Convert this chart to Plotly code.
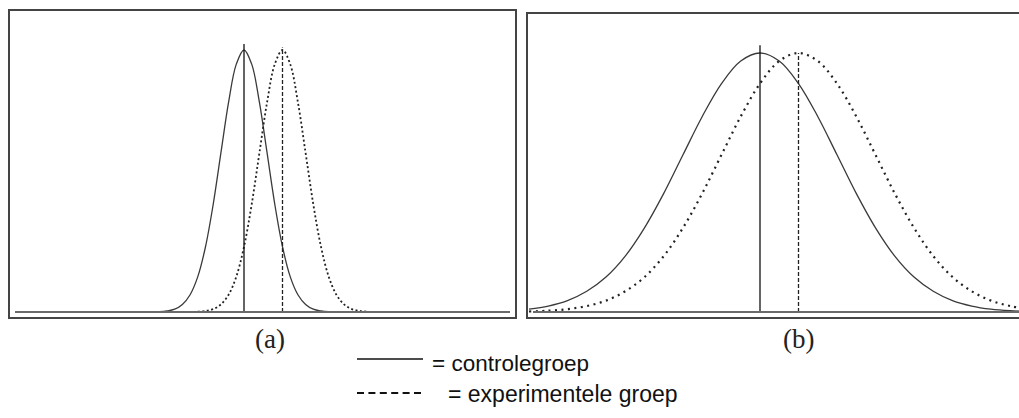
import plotly.graph_objects as go

W, H = 1019, 418

# ---- data (score scale; same mean difference, different spread) ----
means_a = [100, 110]          # controle, experimenteel (panel a)
means_b = [100, 110]          # controle, experimenteel (panel b)
mean_line_top_a = [1.023, 1.01]
mean_line_top_b = [1.03, 1.00]

x_a_ctrl = [78, 80, 82, 84, 86, 88, 90, 92, 94, 96, 98, 100, 102, 104, 106, 108, 110, 112, 114, 116, 118, 120, 122]
y_a_ctrl = [0.001, 0.004, 0.011, 0.029, 0.066, 0.135, 0.249, 0.411, 0.607, 0.801, 0.946, 1.0,
            0.946, 0.801, 0.607, 0.411, 0.249, 0.135, 0.066, 0.029, 0.011, 0.004, 0.001]
x_a_exp = [88, 90, 92, 94, 96, 98, 100, 102, 104, 106, 108, 110, 112, 114, 116, 118, 120, 122, 124, 126, 128, 130, 132]
y_a_exp = [0.001, 0.004, 0.011, 0.029, 0.066, 0.135, 0.249, 0.411, 0.607, 0.801, 0.946, 1.0,
           0.946, 0.801, 0.607, 0.411, 0.249, 0.135, 0.066, 0.029, 0.011, 0.004, 0.001]

x_b = [40, 45, 50, 55, 60, 65, 70, 75, 80, 85, 90, 95, 100, 105, 110, 115, 120, 125, 130,
       135, 140, 145, 150, 155, 160, 165, 170]
y_b_ctrl = [0.011, 0.023, 0.044, 0.080, 0.135, 0.216, 0.325, 0.458, 0.607, 0.755, 0.882, 0.969, 1.0,
            0.969, 0.882, 0.755, 0.607, 0.458, 0.325, 0.216, 0.135, 0.080, 0.044, 0.023, 0.011, 0.005, 0.002]
y_b_exp = [0.002, 0.005, 0.011, 0.023, 0.044, 0.080, 0.135, 0.216, 0.325, 0.458, 0.607, 0.755, 0.882,
           0.969, 1.0, 0.969, 0.882, 0.755, 0.607, 0.458, 0.325, 0.216, 0.135, 0.080, 0.044, 0.023, 0.011]

panel_labels = ["(a)", "(b)"]
legend_labels = ["= controlegroep", "= experimentele groep"]

# ---- layout helpers ----
def px_x(p):
    return p / W

def px_y(p):
    return (H - p) / H

fig = go.Figure()

solid = dict(color="#3a3a3a", width=1.3)
dotted_a = dict(color="#222222", width=1.8, dash="2px,2.5px")
dotted_b = dict(color="#222222", width=2.2, dash="2px,4.5px")
vdash = dict(color="#222222", width=1.3, dash="4px,2px")

# panel a
fig.add_trace(go.Scatter(x=x_a_ctrl, y=y_a_ctrl, mode="lines", line=dict(shape="spline", **solid),
                         xaxis="x", yaxis="y", showlegend=False, hoverinfo="skip"))
fig.add_trace(go.Scatter(x=x_a_exp, y=y_a_exp, mode="lines", line=dict(shape="spline", **dotted_a),
                         xaxis="x", yaxis="y", showlegend=False, hoverinfo="skip"))
fig.add_trace(go.Scatter(x=[means_a[0], means_a[0]], y=[0, mean_line_top_a[0]], mode="lines",
                         line=dict(color="#111111", width=1.3), xaxis="x", yaxis="y", showlegend=False,
                         hoverinfo="skip"))
fig.add_trace(go.Scatter(x=[means_a[1], means_a[1]], y=[0, mean_line_top_a[1]], mode="lines",
                         line=vdash, xaxis="x", yaxis="y", showlegend=False, hoverinfo="skip"))
# panel b
fig.add_trace(go.Scatter(x=x_b, y=y_b_ctrl, mode="lines", line=dict(shape="spline", **solid),
                         xaxis="x2", yaxis="y2", showlegend=False, hoverinfo="skip"))
fig.add_trace(go.Scatter(x=x_b, y=y_b_exp, mode="lines", line=dict(shape="spline", **dotted_b),
                         xaxis="x2", yaxis="y2", showlegend=False, hoverinfo="skip"))
fig.add_trace(go.Scatter(x=[means_b[0], means_b[0]], y=[0, mean_line_top_b[0]], mode="lines",
                         line=dict(color="#111111", width=1.3), xaxis="x2", yaxis="y2", showlegend=False,
                         hoverinfo="skip"))
fig.add_trace(go.Scatter(x=[means_b[1], means_b[1]], y=[0, mean_line_top_b[1]], mode="lines",
                         line=vdash, xaxis="x2", yaxis="y2", showlegend=False, hoverinfo="skip"))

scale = 3.85  # px per score unit
a_left_px, a_right_px, a_top_px, a_bot_px = 10, 515, 11, 317
b_left_px, b_right_px, b_top_px, b_bot_px = 528, 1019, 14, 317
a_center_px, b_center_px = 244, 760
base_px = 312

def xr(left, right, center):
    return [100 - (center - left) / scale, 100 + (right - center) / scale]

def yr(top, bot, peak):
    u = base_px - peak
    return [-(bot - base_px) / u, (base_px - top) / u]

ax_common = dict(showgrid=False, zeroline=False, showticklabels=False, ticks="",
                 showline=True, linecolor="#444444", linewidth=1.6, fixedrange=True)

xa_range = xr(a_left_px, a_right_px, a_center_px)
xb_range = xr(b_left_px, b_right_px, b_center_px)

fig.update_layout(
    width=W, height=H, margin=dict(l=0, r=0, t=0, b=0),
    paper_bgcolor="white", plot_bgcolor="white",
    xaxis=dict(domain=[px_x(a_left_px), px_x(a_right_px)], range=xa_range, mirror=True, **ax_common),
    yaxis=dict(domain=[px_y(a_bot_px), px_y(a_top_px)], range=yr(a_top_px, a_bot_px, 50), mirror=True, **ax_common),
    xaxis2=dict(domain=[px_x(b_left_px), 1.0], range=xb_range, mirror=True, anchor="y2", **ax_common),
    yaxis2=dict(domain=[px_y(b_bot_px), px_y(b_top_px)], range=yr(b_top_px, b_bot_px, 53), mirror=False,
                anchor="x2", **ax_common),
)

# baselines (inset inside each box)
fig.add_shape(type="line", xref="x", yref="y", x0=100 - (244 - 15) / scale, x1=100 + (510 - 244) / scale,
              y0=0, y1=0, line=dict(color="#6a6a6a", width=2))
fig.add_shape(type="line", xref="x2", yref="y2", x0=100 - (760 - 533) / scale, x1=xb_range[1] + 5,
              y0=0, y1=0, line=dict(color="#6a6a6a", width=2))

# panel labels
fig.add_annotation(text=panel_labels[0], x=px_x(270), y=px_y(339), xref="paper", yref="paper",
                   showarrow=False, xanchor="center", yanchor="middle",
                   font=dict(family="Liberation Serif", size=27, color="#222222"))
fig.add_annotation(text=panel_labels[1], x=px_x(798), y=px_y(339), xref="paper", yref="paper",
                   showarrow=False, xanchor="center", yanchor="middle",
                   font=dict(family="Liberation Serif", size=27, color="#222222"))

# legend
fig.add_shape(type="line", xref="paper", yref="paper", x0=px_x(357), x1=px_x(423), y0=px_y(359), y1=px_y(359),
              line=dict(color="#111111", width=1.5))
fig.add_shape(type="line", xref="paper", yref="paper", x0=px_x(357), x1=px_x(422), y0=px_y(393), y1=px_y(393),
              line=dict(color="#111111", width=2, dash="7px,4.4px"))
fig.add_annotation(text=legend_labels[0], x=px_x(430), y=px_y(363), xref="paper", yref="paper",
                   showarrow=False, xanchor="left", yanchor="middle",
                   font=dict(family="Liberation Sans", size=22.5, color="#111111"))
fig.add_annotation(text=legend_labels[1], x=px_x(446), y=px_y(394), xref="paper", yref="paper",
                   showarrow=False, xanchor="left", yanchor="middle",
                   font=dict(family="Liberation Sans", size=23, color="#111111"))

fig.write_html("out.html", config={"displayModeBar": False, "staticPlot": True},
               post_script="document.body.style.margin='0px';document.body.style.overflow='hidden';")
